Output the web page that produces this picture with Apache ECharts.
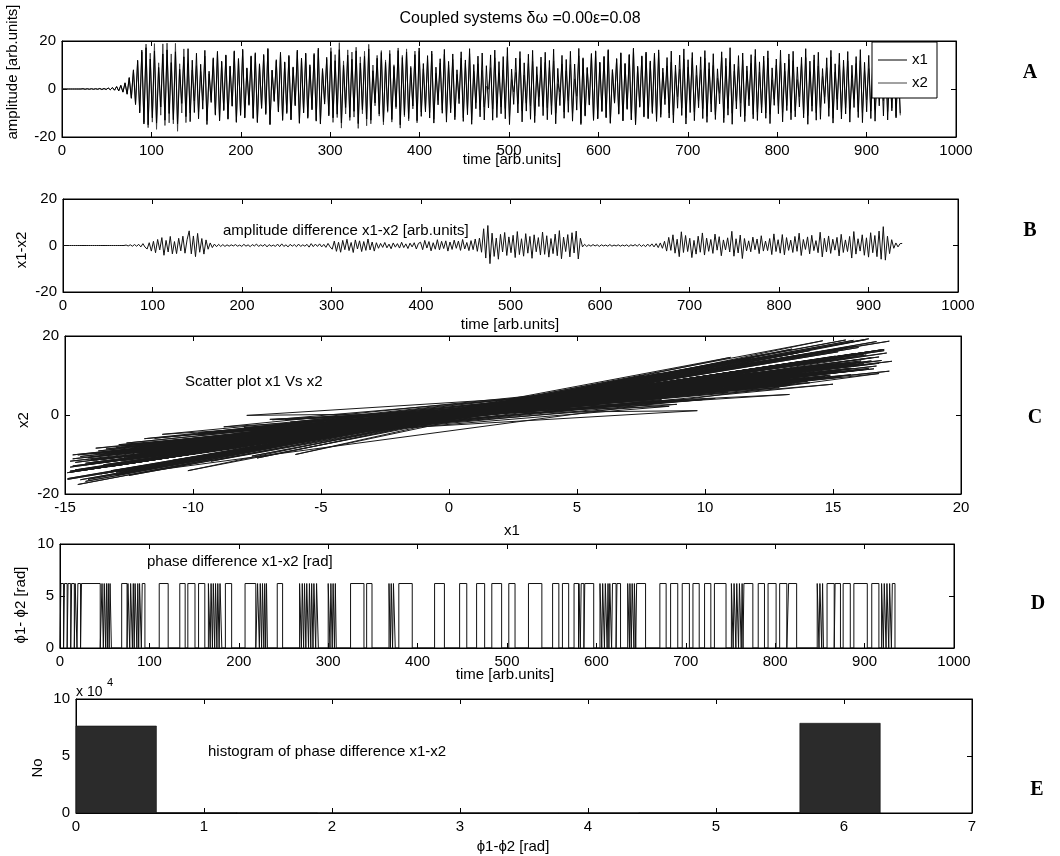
<!DOCTYPE html>
<html>
<head>
<meta charset="utf-8">
<script src="https://cdn.jsdelivr.net/npm/echarts@6/dist/echarts.min.js"></script>
<style>
  html, body { margin: 0; background: #fff; }
  #chart { width: 1060px; height: 856px; }
</style>
</head>
<body>
<div id="chart"></div>
<script>
// Successive extrema of the two coupled oscillators, one every half period.
const halfPeriod = 2.35;

const x1Peaks = [
  0,0,0,0,0,0,0,0,0,0,0.1,-0.1,0.1,-0.1,0.1,-0.1,0.1,-0.1,0.2,-0.2,
  0.2,-0.2,0.4,-0.3,0.6,-0.5,1.0,-0.8,1.5,-1.3,2.6,-2.2,4.8,-3.9,8.0,-6.5,12.0,-10.0,16.2,-14.6,
  17.2,-14.9,12.5,-12.0,15.8,-14.2,9.0,-7.5,14.6,-13.0,16.3,-10.2,11.0,-12.8,15.5,-14.5,8.2,-6.0,13.4,-11.5,
  16.8,-13.6,12.0,-9.8,14.9,-12.4,10.3,-8.4,16.1,-14.8,7.4,-5.6,13.0,-10.9,15.7,-13.3,11.6,-9.0,14.2,-12.6,
  9.6,-7.2,15.9,-13.9,12.7,-11.0,16.6,-12.1,8.8,-6.8,13.8,-12.3,15.1,-14.0,10.5,-8.1,14.4,-10.6,16.9,-14.9,
  7.9,-5.2,12.2,-9.6,15.3,-13.1,11.3,-10.2,14.0,-12.9,9.2,-7.0,16.2,-14.3,12.9,-10.0,15.0,-12.2,10.1,-8.7,
  14.8,-13.4,17.0,-14.6,8.5,-6.3,13.2,-11.2,15.6,-12.0,11.8,-10.5,16.4,-14.1,9.9,-7.7,14.1,-11.8,12.4,-9.3,
  15.9,-14.4,10.8,-8.6,13.6,-12.5,16.7,-13.0,7.6,-5.8,12.8,-10.4,15.2,-13.6,11.1,-9.1,14.7,-12.7,9.4,-7.4,
  16.0,-14.9,13.1,-10.8,15.4,-12.3,8.9,-7.1,14.3,-13.2,17.1,-11.4,10.6,-9.5,13.9,-12.1,15.8,-14.2,9.1,-6.6,
  12.6,-10.1,16.5,-13.8,11.5,-9.9,14.6,-12.8,8.0,-6.1,15.5,-13.5,12.1,-10.7,16.8,-14.7,10.2,-8.2,13.7,-11.6,
  15.0,-12.9,9.7,-7.9,14.2,-13.0,16.2,-11.9,11.4,-10.3,13.5,-12.4,17.3,-14.8,8.3,-6.4,12.9,-10.0,15.6,-13.7,
  10.9,-9.2,14.5,-12.6,16.1,-14.0,9.3,-7.3,13.3,-11.1,15.3,-12.8,11.9,-10.6,16.6,-14.5,8.6,-6.9,14.0,-12.2,
  12.3,-9.7,15.7,-13.4,10.4,-8.8,16.9,-14.8,13.0,-11.3,9.0,-6.7,14.8,-13.1,15.9,-12.5,11.2,-9.4,13.6,-12.0,
  16.4,-14.3,8.1,-5.9,12.7,-10.5,15.1,-13.3,10.7,-8.5,14.4,-12.9,17.0,-14.9,9.5,-7.6,13.8,-11.7,15.4,-12.4,
  11.7,-10.2,14.9,-13.5,16.3,-11.8,8.7,-6.5,13.1,-12.1,15.8,-14.1,10.0,-8.0,14.1,-11.0,16.7,-14.6,12.2,-9.8,
  15.2,-13.2,9.8,-7.8,13.4,-12.3,16.0,-13.9,11.0,-9.6,14.7,-12.7,8.4,-6.2,15.5,-14.0,12.8,-10.9,17.2,-14.7,
  10.3,-8.3,13.9,-11.5,15.0,-13.6,9.6,-7.0,14.3,-12.4,16.5,-13.1,11.3,-10.0,13.7,-12.2,15.9,-14.4,8.8,-6.8,
  12.5,-10.3,16.2,-13.7,10.8,-9.0,14.6,-12.8,15.7,-11.6,9.2,-7.5,13.2,-12.0,16.8,-14.7,11.6,-9.3,14.2,-13.0,
  15.3,-12.6,8.5,-6.0,13.0,-11.4,16.1,-14.2,10.5,-8.7,14.9,-12.5,12.0,-10.4,15.6,-13.8,9.9,-7.7,13.5,-11.9,
  16.4,-14.0,11.1,-9.5,14.0,-12.3,15.2,-13.4,8.9,-7.0,13.3,-11.2,15.8,-12.9,10.6,-9.1,14.5,-12.0,12.3,-10.1
];

// Amplitude difference x1 - x2 at the same instants.
const diffPeaks = [
  0,0,0,0,0,0,0,0,0,0,0,0,0,0,0,0,0,0,0,0,0,0,0,0,0,0,0,0,0,0,
  0.2,-0.2,0.3,-0.3,0.4,-0.3,0.5,-0.6,0.8,-0.7,
  -1.5,1.2,-2.4,1.8,-3.1,2.6,-1.9,3.4,-4.2,2.2,-2.8,3.9,-3.6,1.7,-3.5,3.1,-2.3,4.0,-3.3,2.5,
  6.3,-3.6,4.1,-4.8,5.2,-2.9,3.0,-3.7,2.4,-1.6,1.1,-0.9,0.6,-0.5,0.5,-0.4,0.4,-0.4,0.3,-0.3,
  0.3,-0.2,0.4,-0.3,0.2,-0.4,0.5,-0.3,0.3,-0.5,
  0.4,-0.2,0.6,-0.4,0.3,-0.3,0.5,-0.6,0.4,-0.3,
  0.2,-0.4,0.6,-0.5,0.7,-0.4,0.3,-0.6,0.5,-0.3,
  0.4,-0.5,0.6,-0.4,0.3,-0.3,0.5,-0.7,0.8,-0.5,
  0.6,-0.4,0.7,-0.6,0.5,-0.8,0.9,-0.6,
  -1.6,1.9,-2.5,1.4,-2.9,2.2,-1.8,2.7,-2.2,1.3,-3.0,2.4,-1.5,2.0,-2.6,1.7,-2.1,2.8,-1.9,1.5,-2.4,1.2,
  -1.2,0.9,-0.8,1.3,-1.0,0.6,-1.4,1.1,-0.7,0.8,-1.1,1.4,-0.9,0.7,-1.3,1.0,-0.6,1.2,-1.5,0.9,
  1.4,-1.8,2.2,-1.1,1.7,-2.3,1.2,-1.6,2.5,-1.9,1.8,-1.3,2.0,-2.4,1.5,-1.7,2.3,-1.2,1.9,-2.1,
  2.6,-1.5,1.3,-2.2,2.1,-1.8,2.8,-2.5,3.2,-2.9,
  7.2,-5.4,8.6,-7.8,5.3,-4.7,3.2,-5.9,4.8,-2.8,5.6,-4.3,3.7,-3.1,4.4,-5.2,6.0,-3.9,2.9,-4.6,
  5.1,-3.3,3.9,-5.5,4.6,-2.7,3.4,-4.1,5.8,-3.8,4.2,-5.0,3.0,-3.5,4.9,-4.4,6.4,-5.7,3.6,-2.6,
  4.7,-4.9,5.5,-3.2,6.2,-5.8,3.1,
  -0.6,0.5,-0.4,0.3,-0.3,0.4,-0.2,0.3,-0.4,0.3,
  -0.2,0.2,-0.3,0.4,-0.3,0.2,-0.2,0.3,-0.3,0.2,
  -0.2,0.3,-0.4,0.3,-0.2,0.4,-0.3,0.5,-0.4,0.3,
  -0.5,0.6,-0.4,0.7,-0.6,0.8,-0.9,1.1,-1.2,
  1.8,-2.4,3.5,-2.1,4.6,-3.3,2.7,-4.8,5.9,-3.0,4.3,-2.6,3.1,-5.2,2.2,-3.7,4.0,-2.9,5.4,-4.1,
  3.2,-2.5,2.6,-3.4,4.9,-2.0,3.8,-4.4,2.4,-1.9,3.3,-2.8,6.1,-4.6,2.9,-3.2,4.5,-5.6,3.0,-2.3,
  2.0,-2.7,3.6,-1.8,2.8,-3.5,4.2,-2.4,1.9,-2.2,3.0,-3.9,5.0,-2.6,2.5,-3.3,4.7,-4.0,3.4,-2.1,
  2.3,-3.0,3.9,-2.5,5.3,-4.3,2.6,-1.7,3.7,-3.6,4.4,-2.2,2.1,-3.1,5.7,-4.9,3.1,-2.8,4.1,-3.4,
  2.7,-2.0,3.5,-4.5,4.8,-3.0,2.4,-2.6,3.9,-5.4,6.0,-3.7,2.9,-2.4,4.6,-4.2,3.3,-5.0,5.5,-3.1,
  4.3,-4.8,6.2,-5.9,8.1,-6.3,4.0,-3.5,2.5,
  -1.2,1.1,-0.6,0.8,0.9
];

// Intervals (time) where the wrapped phase difference sits near 2*pi.
const phaseHigh = 6.2;
const phaseHighSpans = [
  [1,4],[5,8],[9,12],[13,16],[17,19],[20,23],[24,45],[47,48.5],[49.5,51],[52,53],[54,55],[56,57.5],
  [69,75],[76,78],[79,81],[82,83],[84,86],[87,88],[89,91],[92,95],
  [111,121],[134,140],[143,151],[155,162],
  [166,168],[169,170.5],[171.5,173],[174,175.5],[176.5,178],[179,181],
  [185,192],[207,219],[221,223],[224,225.5],[226.5,228],[229,230],[231,232],[243,249],
  [268,270],[271,272.5],[273.5,275],[276,278],[279,280.5],[281.5,283],[284,286],[287,289],
  [300,302],[303,304.5],[305.5,307],[308,309],[325,340],[343,349],
  [368,369.5],[370.5,372],[373,375],[379,394],[419,430],[447,455],[466,475],[483,494],[502,509],
  [524,539],[551,558],[562,569],[575,580],[580.5,582],[583,586],[587,597],
  [604,606],[607,609],[610,612],[613,614],[615,617],[618,622],[623,627],
  [635,637],[637.5,639],[640,642],[642.5,644],[645,655],
  [671,678],[683,691],[696,704],[708,715],[721,728],[732,745],
  [751,753],[754,756],[757,759],[760,762],[763,764],[765,775],
  [781,788],[792,801],[805,813],[815,824],
  [847,849],[850,852],[853,854],[858,866],[867,873],[876,884],[888,903],[908,916],
  [919,921],[922,924],[925,927],[928,930],[931,934]
];

// Histogram of the phase difference: 10 bins over [0, 2*pi].
const histRange = [0, 2 * Math.PI];
const histCounts = [76300, 300, 120, 60, 40, 40, 60, 120, 350, 78700];

// ---- derived series -------------------------------------------------------
const times = x1Peaks.map((_, k) => k * halfPeriod);
const x2Peaks = x1Peaks.map((v, k) => +(v - diffPeaks[k]).toFixed(2));

const seriesX1 = times.map((t, k) => [t, x1Peaks[k]]);
const seriesX2 = times.map((t, k) => [t, x2Peaks[k]]);
const seriesDiff = times.map((t, k) => [t, diffPeaks[k]]);
const seriesScatter = x1Peaks.map((v, k) => [v, x2Peaks[k]]);

const phaseTrace = [[0, 0]];
phaseHighSpans.forEach(([s, e]) => {
  phaseTrace.push([s, 0], [s, phaseHigh], [e, phaseHigh], [e, 0]);
});

const binWidth = (histRange[1] - histRange[0]) / histCounts.length;
const histBins = histCounts.map((c, i) => [histRange[0] + i * binWidth, histRange[0] + (i + 1) * binWidth, c]);

// ---- layout ---------------------------------------------------------------
const FONT = '"Liberation Sans", Arial, Helvetica, sans-serif';
const grids = [
  { left: 62, top: 41, width: 894, height: 96 },
  { left: 63, top: 199, width: 895, height: 93 },
  { left: 65, top: 336, width: 896, height: 158 },
  { left: 60, top: 544, width: 894, height: 104 },
  { left: 76, top: 699, width: 896, height: 114 }
];
const axisRanges = [
  { x: [0, 1000, 100], y: [-20, 20, 20] },
  { x: [0, 1000, 100], y: [-20, 20, 20] },
  { x: [-15, 20, 5], y: [-20, 20, 20] },
  { x: [0, 1000, 100], y: [0, 10, 5] },
  { x: [0, 7, 1], y: [0, 100000, 50000] }
];

function baseAxis(gridIndex, range, position, showLabels, formatter) {
  return {
    type: 'value', gridIndex, position,
    min: range[0], max: range[1], interval: range[2],
    axisLine: { show: true, onZero: false, lineStyle: { color: '#000', width: 1 } },
    axisTick: { show: true, inside: true, length: 5, lineStyle: { color: '#000', width: 1 } },
    splitLine: { show: false },
    axisLabel: {
      show: showLabels, color: '#000', fontSize: 15, fontFamily: FONT, margin: 6,
      formatter: formatter || (v => String(v))
    }
  };
}

const xAxes = [], yAxes = [];
axisRanges.forEach((r, i) => {
  xAxes.push(baseAxis(i, r.x, 'bottom', true));
  xAxes.push(baseAxis(i, r.x, 'top', false));
  const fmt = i === 4 ? (v => String(v / 10000)) : null;
  yAxes.push(baseAxis(i, r.y, 'left', true, fmt));
  yAxes.push(baseAxis(i, r.y, 'right', false));
});

function txt(text, x, y, opt = {}) {
  const align = opt.align || 'center';
  return {
    type: 'text', x, y, rotation: opt.rot || 0, z: 60,
    style: {
      text, font: opt.font || ('15px ' + FONT), fill: '#000',
      align, verticalAlign: 'middle', textAlign: align, textVerticalAlign: 'middle'
    }
  };
}
const R = Math.PI / 2;
const letterFont = 'bold 20px "Liberation Serif", "Times New Roman", serif';

const graphics = [
  txt('Coupled systems δω =0.00ε=0.08', 520, 19, { font: '16px ' + FONT }),
  txt('amplitude [arb.units]', 13, 72, { rot: R }),
  txt('time [arb.units]', 512, 160),
  txt('amplitude difference x1-x2 [arb.units]', 223, 231, { align: 'left' }),
  txt('x1-x2', 22, 250, { rot: R }),
  txt('time [arb.units]', 510, 325),
  txt('Scatter plot x1 Vs x2', 185, 382, { align: 'left' }),
  txt('x2', 24, 420, { rot: R }),
  txt('x1', 512, 531),
  txt('phase difference x1-x2 [rad]', 147, 562, { align: 'left' }),
  txt('ϕ1- ϕ2 [rad]', 21, 605, { rot: R }),
  txt('time [arb.units]', 505, 675),
  txt('histogram of phase difference x1-x2', 208, 752, { align: 'left' }),
  txt('No', 38, 768, { rot: R }),
  txt('ϕ1-ϕ2 [rad]', 513, 847),
  txt('x 10', 76, 692, { align: 'left', font: '14px ' + FONT }),
  txt('4', 107, 683, { align: 'left', font: '11px ' + FONT }),
  txt('A', 1030, 73, { font: letterFont }),
  txt('B', 1030, 231, { font: letterFont }),
  txt('C', 1035, 418, { font: letterFont }),
  txt('D', 1038, 604, { font: letterFont }),
  txt('E', 1037, 790, { font: letterFont }),
  // legend box of panel A
  {
    type: 'group', z: 80,
    children: [
      { type: 'rect', z: 80, shape: { x: 872, y: 42, width: 65, height: 56 },
        style: { fill: '#fff', stroke: '#000', lineWidth: 1 } },
      { type: 'line', z: 81, shape: { x1: 878, y1: 60, x2: 907, y2: 60 },
        style: { stroke: '#000', lineWidth: 1 } },
      { type: 'line', z: 81, shape: { x1: 878, y1: 83, x2: 907, y2: 83 },
        style: { stroke: '#444', lineWidth: 1 } },
      Object.assign(txt('x1', 912, 60, { align: 'left' }), { z: 82 }),
      Object.assign(txt('x2', 912, 83, { align: 'left' }), { z: 82 })
    ]
  }
];

const lineBase = { type: 'line', showSymbol: false, symbol: 'none', animation: false, clip: true };

const option = {
  animation: false,
  backgroundColor: '#fff',
  grid: grids.map(g => Object.assign({ show: true, borderColor: '#000', borderWidth: 1, backgroundColor: 'transparent' }, g)),
  xAxis: xAxes,
  yAxis: yAxes,
  graphic: graphics,
  series: [
    Object.assign({}, lineBase, { name: 'x2', xAxisIndex: 0, yAxisIndex: 0, data: seriesX2,
      lineStyle: { color: '#444', width: 1 } }),
    Object.assign({}, lineBase, { name: 'x1', xAxisIndex: 0, yAxisIndex: 0, data: seriesX1,
      lineStyle: { color: '#000', width: 1 } }),
    Object.assign({}, lineBase, { name: 'x1-x2', xAxisIndex: 2, yAxisIndex: 2, data: seriesDiff,
      lineStyle: { color: '#111', width: 1 } }),
    Object.assign({}, lineBase, { name: 'x1 vs x2', xAxisIndex: 4, yAxisIndex: 4, data: seriesScatter,
      lineStyle: { color: '#1a1a1a', width: 1 } }),
    Object.assign({}, lineBase, { name: 'phase difference', xAxisIndex: 6, yAxisIndex: 6, data: phaseTrace,
      lineStyle: { color: '#111', width: 1 } }),
    {
      type: 'custom', name: 'histogram', xAxisIndex: 8, yAxisIndex: 8,
      data: histBins,
      encode: { x: [0, 1], y: 2 },
      renderItem: function (params, api) {
        const p0 = api.coord([api.value(0), 0]);
        const p1 = api.coord([api.value(1), api.value(2)]);
        return {
          type: 'rect',
          shape: { x: p0[0], y: p1[1], width: p1[0] - p0[0], height: p0[1] - p1[1] },
          style: { fill: '#2b2b2b', stroke: '#111', lineWidth: 0.6 }
        };
      }
    }
  ]
};

const chart = echarts.init(document.getElementById('chart'), null, { renderer: 'canvas' });
chart.setOption(option);
</script>
</body>
</html>
